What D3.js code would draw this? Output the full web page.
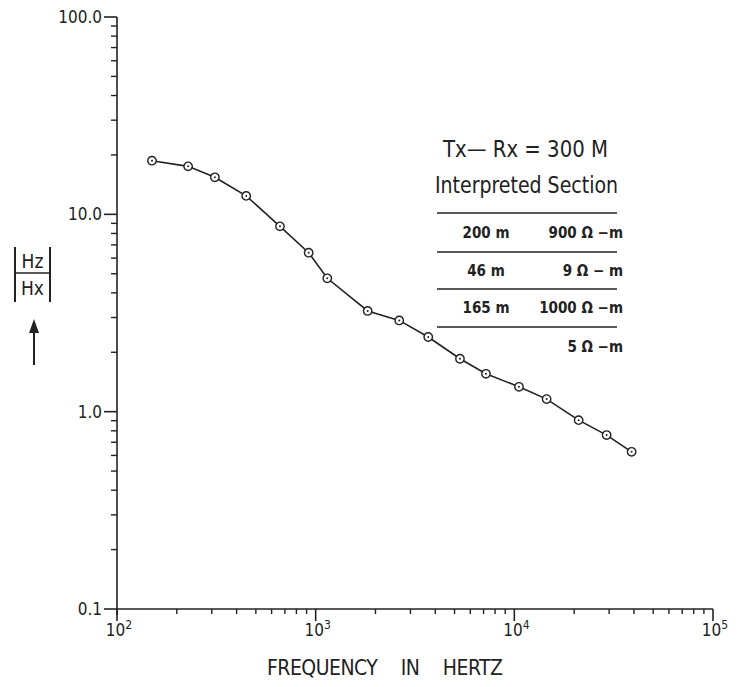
<!DOCTYPE html>
<html>
<head>
<meta charset="utf-8">
<script src="https://cdn.jsdelivr.net/npm/d3@7"></script>
<style>
  body { margin: 0; background: #fff; }
  svg { display: block; }
  text { font-family: "Liberation Sans Narrow", "DejaVu Sans Condensed", "Roboto Condensed", sans-serif; fill: #222; }
</style>
</head>
<body>
<svg id="chart" width="743" height="687"></svg>
<script>
// measured |Hz/Hx| against frequency
var frequency = [150, 228, 311, 447, 661, 922, 1144, 1827, 2634, 3687, 5324, 7196, 10550, 14540, 21070, 29140, 38940];
var ratio = [18.7, 17.5, 15.4, 12.4, 8.69, 6.39, 4.74, 3.24, 2.90, 2.39, 1.854, 1.556, 1.337, 1.158, 0.906, 0.761, 0.626];

var xMajor = [1e2, 1e3, 1e4, 1e5];
var xExp = ["2", "3", "4", "5"];
var yMajor = [0.1, 1, 10, 100];
var yLabels = ["0.1", "1.0", "10.0", "100.0"];

var legendTitle = "Tx\u2014 Rx  =  300 M";
var legendHeader = "Interpreted   Section";
var thickness = ["200 m", "46 m", "165 m", ""];
var resistivity = ["900 \u03A9 \u2212m", "9 \u03A9 \u2212 m", "1000 \u03A9 \u2212m", "5 \u03A9 \u2212m"];

var svg = d3.select("#chart");
var ink = "#222";

var x = d3.scaleLog().domain([1e2, 1e5]).range([117, 713]);
var y = d3.scaleLog().domain([0.1, 100]).range([609, 17]);

// minor ticks 2..9 in every decade
function minors(lo, hi) {
  var out = [];
  for (var d = lo; d < hi; d *= 10) {
    for (var k = 2; k <= 9; k++) out.push(d * k);
  }
  return out;
}

var axes = svg.append("g").attr("stroke", ink).attr("fill", "none");

// y axis
axes.append("line")
  .attr("x1", x(1e2)).attr("x2", x(1e2))
  .attr("y1", y(100)).attr("y2", y(0.1) + 6)
  .attr("stroke-width", 1.6);
axes.selectAll(".ymin").data(minors(0.1, 100)).enter().append("line")
  .attr("x1", x(1e2) - 6).attr("x2", x(1e2))
  .attr("y1", d => y(d)).attr("y2", d => y(d))
  .attr("stroke-width", 1.4);
axes.selectAll(".ymaj").data(yMajor).enter().append("line")
  .attr("x1", x(1e2) - 13).attr("x2", x(1e2))
  .attr("y1", d => y(d)).attr("y2", d => y(d))
  .attr("stroke-width", 1.6);

svg.selectAll(".ylab").data(yMajor).enter().append("text")
  .attr("x", x(1e2) - 15)
  .attr("y", d => y(d))
  .attr("dy", "0.36em")
  .attr("text-anchor", "end")
  .style("font-size", "17px")
  .text((d, i) => yLabels[i]);

// x axis
axes.append("line")
  .attr("x1", x(1e2)).attr("x2", x(1e5))
  .attr("y1", y(0.1)).attr("y2", y(0.1))
  .attr("stroke-width", 1.4);
axes.selectAll(".xmin").data(minors(1e2, 1e5)).enter().append("line")
  .attr("x1", d => x(d)).attr("x2", d => x(d))
  .attr("y1", y(0.1)).attr("y2", y(0.1) + 5)
  .attr("stroke-width", 1.4);
axes.selectAll(".xmaj").data(xMajor).enter().append("line")
  .attr("x1", d => x(d)).attr("x2", d => x(d))
  .attr("y1", y(0.1)).attr("y2", y(0.1) + 12)
  .attr("stroke-width", 1.6);

var xl = svg.selectAll(".xlab").data(xMajor).enter().append("text")
  .attr("x", d => x(d) + 2)
  .attr("y", y(0.1) + 27)
  .attr("text-anchor", "middle")
  .style("font-size", "17px");
xl.append("tspan").text("10");
xl.append("tspan").attr("dy", -7).style("font-size", "12px").text((d, i) => xExp[i]);

svg.append("text")
  .attr("x", 267).attr("y", 675)
  .attr("textLength", 236)
  .attr("lengthAdjust", "spacing")
  .style("font-size", "21px")
  .style("word-spacing", "18px")
  .text("FREQUENCY IN HERTZ");

// y axis title |Hz / Hx| with arrow
var yt = svg.append("g");
yt.append("line").attr("x1", 15).attr("x2", 15).attr("y1", 247).attr("y2", 302).attr("stroke", ink).attr("stroke-width", 2);
yt.append("line").attr("x1", 50).attr("x2", 50).attr("y1", 247).attr("y2", 302).attr("stroke", ink).attr("stroke-width", 2);
yt.append("line").attr("x1", 15).attr("x2", 50).attr("y1", 273).attr("y2", 273).attr("stroke", ink).attr("stroke-width", 1.6);
yt.append("text").attr("x", 32.5).attr("y", 268).attr("text-anchor", "middle").style("font-size", "19px").text("Hz");
yt.append("text").attr("x", 32.5).attr("y", 295).attr("text-anchor", "middle").style("font-size", "19px").text("Hx");
yt.append("line").attr("x1", 34).attr("x2", 34).attr("y1", 330).attr("y2", 365).attr("stroke", ink).attr("stroke-width", 2);
yt.append("path").attr("d", "M34,319 L29,333 L39,333 Z").attr("fill", ink);

// data line and markers
var line = d3.line().x((d, i) => x(frequency[i])).y(d => y(d));
svg.append("path")
  .datum(ratio)
  .attr("d", line)
  .attr("fill", "none")
  .attr("stroke", ink)
  .attr("stroke-width", 1.6);

var pts = svg.selectAll(".pt").data(ratio).enter().append("g")
  .attr("transform", (d, i) => "translate(" + x(frequency[i]) + "," + y(d) + ")");
pts.append("circle").attr("r", 4.2).attr("fill", "#fff").attr("stroke", ink).attr("stroke-width", 1.4);
pts.append("circle").attr("r", 1).attr("fill", ink);

// legend: interpreted section
var lg = svg.append("g");
lg.append("text").attr("x", 443).attr("y", 157).attr("textLength", 165).attr("lengthAdjust", "spacingAndGlyphs")
  .style("font-size", "23px").text(legendTitle);
lg.append("text").attr("x", 435).attr("y", 193).attr("textLength", 183).attr("lengthAdjust", "spacingAndGlyphs")
  .style("font-size", "23px").text(legendHeader);

var ruleY = [213, 252, 289, 327];
var rowY = [238, 276, 313, 352];
lg.selectAll(".rule").data(ruleY).enter().append("line")
  .attr("x1", 437).attr("x2", 617).attr("y1", d => d).attr("y2", d => d)
  .attr("stroke", ink).attr("stroke-width", 1.6);
lg.selectAll(".thk").data(thickness).enter().append("text")
  .attr("x", 486).attr("y", (d, i) => rowY[i])
  .attr("text-anchor", "middle")
  .style("font-size", "15px").style("font-weight", "bold")
  .text(d => d);
lg.selectAll(".res").data(resistivity).enter().append("text")
  .attr("x", 623).attr("y", (d, i) => rowY[i])
  .attr("text-anchor", "end")
  .style("font-size", "15px").style("font-weight", "bold")
  .text(d => d);
</script>
</body>
</html>
